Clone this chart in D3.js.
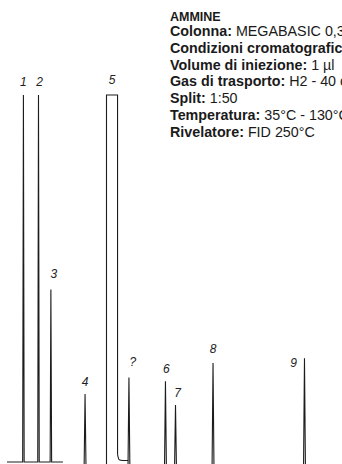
<!doctype html>
<html lang="it">
<head>
    <meta charset="UTF-8">
    <title>Ammine - cromatogramma</title>
    <script type="text/javascript" src="https://cdn.jsdelivr.net/npm/d3@7/dist/d3.min.js"></script>
    <style type="text/css">
        html, body {
            margin: 0;
            padding: 0;
            background: #fff;
        }
        svg {
            display: block;
        }
    </style>
</head>
<body>
<script type="text/javascript">
    var width = 342;
    var height = 464;

    // peaks: label, retention time (min), signal (% full scale)
    var peak_labels = ["1", "2", "3", "4", "?", "6", "7", "8", "9"];
    var peak_times = [0.49, 0.94, 1.31, 2.33, 3.64, 4.73, 5.03, 6.15, 8.88];
    var peak_heights = [100, 100, 47, 18.5, 23, 22, 15.5, 27, 28.3];

    // peak 5 is off scale (flat top)
    var big_peak = {label: "5", start: 2.97, end: 3.30, height: 100, tail: 3.62};

    // visible baseline (min)
    var baseline_range = [0, 1.67];

    // method text
    var info_title = "AMMINE";
    var info_keys = ["Colonna:", "Condizioni cromatografiche", "Volume di iniezione:", "Gas di trasporto:",
        "Split:", "Temperatura:", "Rivelatore:"];
    var info_values = ["MEGABASIC 0,32 mm x 30 m", "", "1 µl", "H2 - 40  cm/s",
        "1:50", "35°C - 130°C", "FID 250°C"];

    var x_scale = d3.scaleLinear().domain([0, 10]).range([7, 342]);
    var y_scale = d3.scaleLinear().domain([0, 100]).range([462, 95]);

    var svg = d3.select("body").append("svg").attr("width", width).attr("height", height);

    var line = d3.line()
        .x(function (d) {
            return x_scale(d[0]);
        })
        .y(function (d) {
            return y_scale(d[1]);
        });

    var ink = "#1c1c1c";
    var half = 0.022;

    // baseline with first three peaks
    var base_pts = [[baseline_range[0], 0]];
    peak_times.forEach(function (t, i) {
        if (t < baseline_range[1]) {
            base_pts.push([t - half, 0], [t, peak_heights[i]], [t + half, 0]);
        }
    });
    base_pts.push([baseline_range[1], 0]);

    svg.append("path")
        .attr("d", line(base_pts))
        .attr("fill", "none")
        .attr("stroke", ink)
        .attr("stroke-width", 1.1);

    // later peaks run off the bottom of the frame
    var low = -2;
    svg.selectAll("path.spike")
        .data(peak_times.filter(function (t) {
            return t > baseline_range[1];
        }))
        .enter()
        .append("path")
        .attr("class", "spike")
        .attr("d", function (t) {
            var h = peak_heights[peak_times.indexOf(t)];
            return line([[t - half * 1.3, low], [t, h], [t + half * 1.3, low]]);
        })
        .attr("fill", "none")
        .attr("stroke", ink)
        .attr("stroke-width", 1.1);

    // off scale peak 5
    var curve = d3.line()
        .x(function (d) {
            return x_scale(d[0]);
        })
        .y(function (d) {
            return y_scale(d[1]);
        })
        .curve(d3.curveMonotoneX);
    svg.append("path")
        .attr("d", line([[big_peak.start, low], [big_peak.start, big_peak.height],
            [big_peak.end, big_peak.height], [big_peak.end, 2]]))
        .attr("fill", "none")
        .attr("stroke", ink)
        .attr("stroke-width", 1.1);
    svg.append("path")
        .attr("d", curve([[big_peak.end, 2], [big_peak.end + 0.05, 0.6], [big_peak.end + 0.15, 0.4], [big_peak.tail, 0.4]]))
        .attr("fill", "none")
        .attr("stroke", ink)
        .attr("stroke-width", 1.1);

    // peak labels
    var nudge = {"1": [0, -9], "2": [1, -9], "3": [3, -12], "4": [0, -8], "?": [4, -12],
        "6": [1, -8], "7": [2, -8], "8": [0, -10], "9": [-11, 9]};
    svg.selectAll("text.peak")
        .data(peak_labels)
        .enter()
        .append("text")
        .attr("class", "peak")
        .text(function (d) {
            return d;
        })
        .attr("x", function (d, i) {
            return x_scale(peak_times[i]) + nudge[d][0];
        })
        .attr("y", function (d, i) {
            return y_scale(peak_heights[i]) + nudge[d][1];
        })
        .attr("text-anchor", "middle")
        .attr("font-family", "Liberation Sans, Arial, sans-serif")
        .attr("font-style", "italic")
        .attr("font-size", "12px")
        .attr("fill", "#222");

    svg.append("text")
        .text(big_peak.label)
        .attr("x", x_scale((big_peak.start + big_peak.end) / 2))
        .attr("y", y_scale(big_peak.height) - 11)
        .attr("text-anchor", "middle")
        .attr("font-family", "Liberation Sans, Arial, sans-serif")
        .attr("font-style", "italic")
        .attr("font-size", "12px")
        .attr("fill", "#222");

    // method block
    var info = svg.append("g").attr("transform", "translate(170,20.5)")
        .attr("font-family", "Liberation Sans, Arial, sans-serif")
        .attr("font-size", "14.3px")
        .attr("fill", "#1a1a1a");

    info.append("text")
        .attr("font-weight", "bold")
        .attr("font-size", "12.5px")
        .text(info_title);

    info_keys.forEach(function (k, i) {
        var t = info.append("text").attr("y", 15.5 + i * 16.8);
        t.append("tspan").attr("font-weight", "bold").text(k);
        if (info_values[i]) {
            t.append("tspan").text(" " + info_values[i]);
        }
    });
</script>
</body>
</html>
